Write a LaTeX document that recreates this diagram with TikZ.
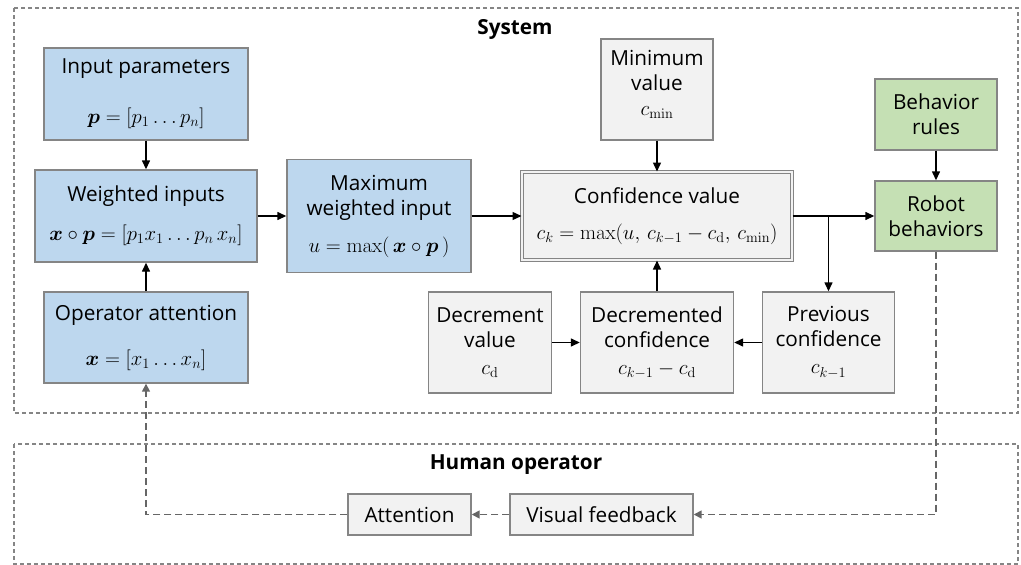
\documentclass[tikz,border=0pt]{standalone}
\usepackage{amsmath,amssymb}
\usepackage[no-math]{fontspec}
\setmainfont{Open Sans}
\usetikzlibrary{shapes,arrows.meta,positioning}
\definecolor{blockblue}{HTML}{BDD7EE}
\definecolor{blockgray}{HTML}{F2F2F2}
\definecolor{blockgreen}{HTML}{C5E0B4}
\definecolor{edgegray}{HTML}{858585}
\definecolor{dashgray}{HTML}{666666}
\tikzset{
    block/.style={
           rectangle,
           draw=edgegray, line width=1.4pt,
           inner sep=2pt,
           align=center,
           font=\fontsize{20.74}{25}\selectfont
           },
    bluebox/.style={block, fill=blockblue},
    graybox/.style={block, fill=blockgray},
    greenbox/.style={block, fill=blockgreen},
    frame/.style={
           draw=edgegray, line width=1.1pt,
           dash pattern=on 4pt off 3pt
           },
    title/.style={font=\fontsize{20.74}{25}\selectfont\bfseries},
    flow/.style={black, line width=1.4pt},
    feedback/.style={
           dashgray, line width=1.6pt,
           dash pattern=on 7pt off 4pt,
           >={Triangle[length=8pt,width=8pt]}
           }
}

\begin{document}
\begin{tikzpicture}[x=1pt, y=-1pt, >={Triangle[length=9pt,width=8pt]}, on grid]
   \useasboundingbox (0,0) rectangle (1021,565);

   % outer frames
   \draw[frame] (14,8) rectangle (1018,413);
   \draw[frame] (14,444) rectangle (1018,564);
   \node[title] (systitle)   at (515,29)  {System};
   \node[title] (humantitle) at (516,465) {Human operator};

   % system
   \node[bluebox, minimum width=204pt, minimum height=92pt] (params) at (146,94)
        {Input parameters\\[25pt]$\boldsymbol{p} = [p_1 \dots p_n]$};
   \node[bluebox, minimum width=222pt, minimum height=92pt] (weighted) [below=122pt of params]
        {Weighted inputs\\[14pt]$\boldsymbol{x}\circ\boldsymbol{p} = [p_1x_1 \dots p_n\,x_n]$};
   \node[bluebox, minimum width=204pt, minimum height=91pt] (operator) [below=121.5pt of weighted]
        {Operator attention\\[20pt]$\boldsymbol{x} = [x_1 \dots x_n]$};
   \node[bluebox, minimum width=184pt, minimum height=113pt] (maxin) [right=233pt of weighted]
        {Maximum\\weighted input\\[12pt]$u = \max(\,\boldsymbol{x}\circ\boldsymbol{p}\,)$};
   \node[graybox, minimum width=270pt, minimum height=88pt, line width=1pt,
         double=blockgray, double distance=2.5pt] (conf) [right=278pt of maxin]
        {Confidence value\\[11pt]$c_k = \max(u,\, c_{k-1} - c_{\mathrm{d}},\, c_{\min})$};
   \node[graybox, minimum width=112pt, minimum height=101pt] (minval) [above=126.5pt of conf]
        {Minimum\\value\\$c_{\min}$\\[-12pt]\mbox{}};
   \node[greenbox, minimum width=122pt, minimum height=70pt] (robot) [right=279pt of conf]
        {Robot\\behaviors};
   \node[greenbox, minimum width=122pt, minimum height=71pt] (rules) [above=101.5pt of robot]
        {Behavior\\rules};
   \node[graybox, minimum width=153pt, minimum height=101pt] (decconf) [below=126.5pt of conf]
        {Decremented\\confidence\\[2pt]$c_{k-1} - c_{\mathrm{d}}$};
   \node[graybox, minimum width=123pt, minimum height=101pt] (decval) [left=167pt of decconf]
        {Decrement\\value\\[2pt]$c_{\mathrm{d}}$};
   \node[graybox, minimum width=132pt, minimum height=101pt] (prevconf) [right=171.5pt of decconf]
        {Previous\\confidence\\[2pt]$c_{k-1}$};
   \coordinate (branch) at (conf.east -| prevconf.north);

   % human operator
   \node[graybox, minimum width=183pt, minimum height=41pt] (visual) at (601.5,514.5)
        {Visual feedback};
   \node[graybox, minimum width=123pt, minimum height=41pt] (attention) [left=192pt of visual]
        {Attention};

   \path[->]
    (params)   edge[flow] (weighted)
    (operator) edge[flow] (weighted)
    (weighted) edge[flow] (maxin)
    (maxin)    edge[flow] (conf)
    (minval)   edge[flow] (conf)
    (rules)    edge[flow] (robot)
    (conf)     edge[flow] (robot)
    (branch)   edge[flow] (prevconf)
    (decval)   edge[flow] (decconf)
    (prevconf) edge[flow] (decconf)
    (decconf)  edge[flow] (conf)
    ;

   \draw[feedback,->] (robot.south) |- (visual.east);
   \draw[feedback,->] (visual) -- (attention);
   \draw[feedback,->] (attention.west) -| (operator.south);
\end{tikzpicture}
\end{document}
